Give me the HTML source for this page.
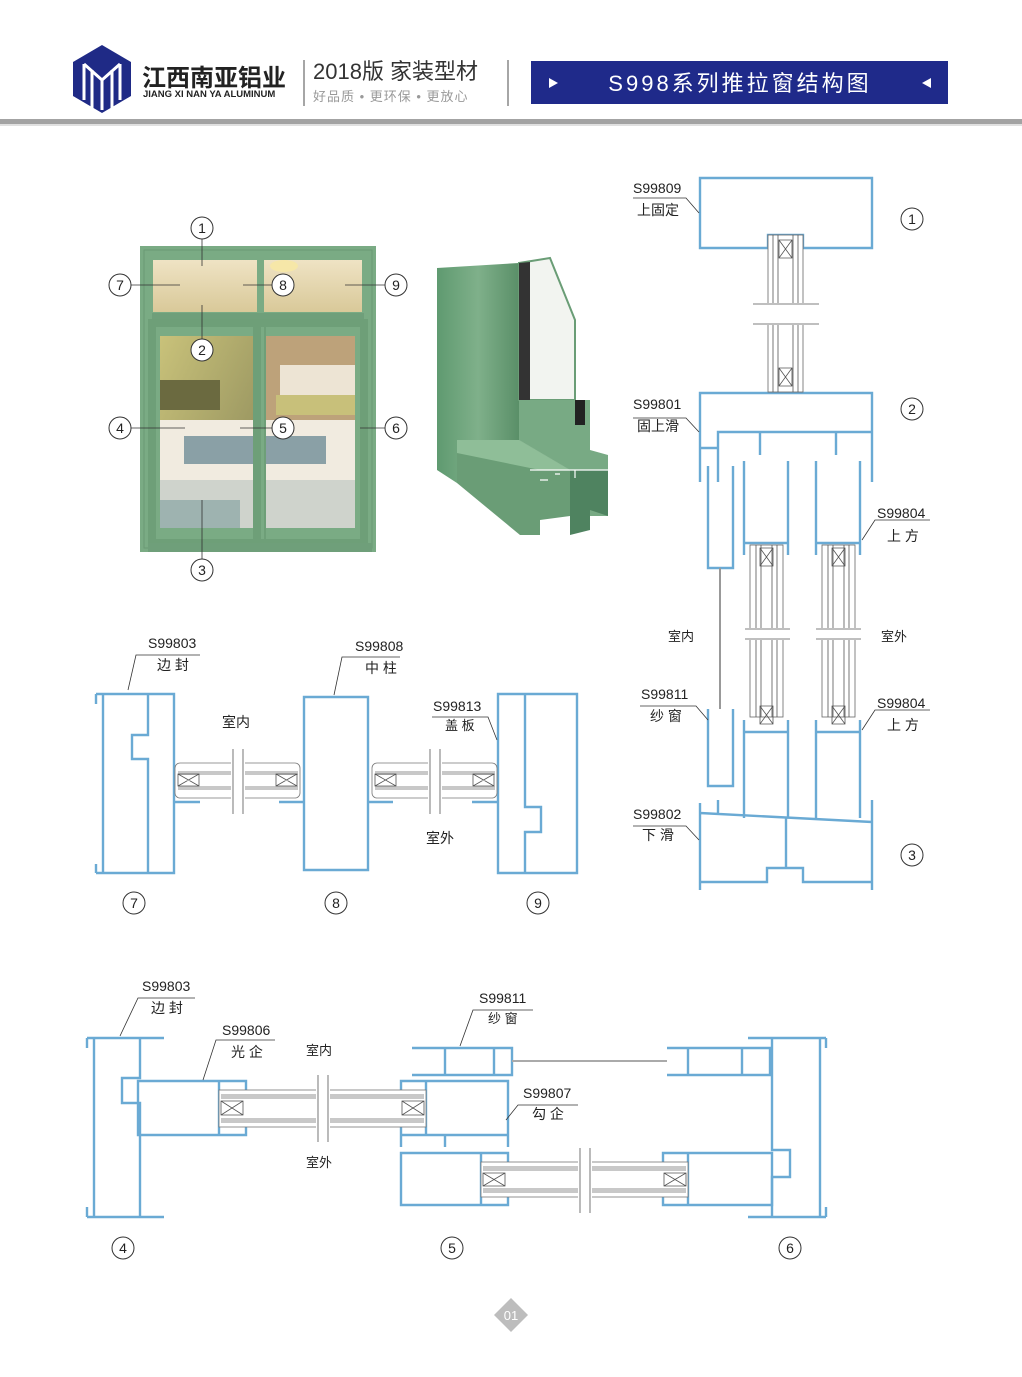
<!DOCTYPE html>
<html><head><meta charset="utf-8"><style>
html,body{margin:0;padding:0;background:#fff;}
svg{display:block;}
.p{fill:none;stroke:#6aaad4;stroke-width:2.4;stroke-linejoin:miter;}
.t{fill:none;stroke:#555;stroke-width:0.8;}
.g{fill:#d6d6d6;stroke:#888;stroke-width:0.7;}
.l{fill:none;stroke:#333;stroke-width:0.8;}
.c{fill:#fff;stroke:#333;stroke-width:1;}
text{font-family:"Liberation Sans","Noto Sans CJK SC",sans-serif;fill:#222;}
.n{font-size:14px;text-anchor:middle;}
.lb{font-size:14px;}
</style></head><body>
<svg width="1022" height="1377" viewBox="0 0 1022 1377" xmlns="http://www.w3.org/2000/svg">
<!-- header -->
<polygon points="102,45 131,62 131,96 102,113 73,96 73,62" fill="#1f2a86"/>
<path d="M84,64 L84,100 M92,70 L92,108 M102,78 L102,110 M112,70 L112,108 M120,64 L120,100 M84,64 L102,80 L120,64" stroke="#fff" stroke-width="3" fill="none"/>
<text x="142" y="86" style="font-size:24px;font-weight:bold;fill:#222">江西南亚铝业</text>
<text x="143" y="97" style="font-size:9.5px;font-weight:bold;fill:#222">JIANG XI NAN YA ALUMINUM</text>
<line x1="304" y1="60" x2="304" y2="106" stroke="#888" stroke-width="1.5"/>
<text x="313" y="79" style="font-size:22px;fill:#333">2018版  家装型材</text>
<text x="313" y="101" style="font-size:13px;fill:#999;letter-spacing:1px">好品质 • 更环保 • 更放心</text>
<line x1="508" y1="60" x2="508" y2="106" stroke="#888" stroke-width="1.5"/>
<rect x="531" y="61" width="417" height="43" fill="#1f2a8a"/>
<polygon points="549,78 549,88 558,83" fill="#fff"/>
<polygon points="931,78 931,88 922,83" fill="#fff"/>
<text x="740" y="91" style="font-size:22px;fill:#fff;text-anchor:middle;letter-spacing:3px">S998系列推拉窗结构图</text>
<rect x="0" y="119" width="1022" height="5" fill="#a3a3a3"/>
<rect x="0" y="124" width="1022" height="2" fill="#e0e0e0"/>

<!-- window photo -->
<defs>
<linearGradient id="wall" x1="0" y1="0" x2="1" y2="1"><stop offset="0" stop-color="#c9c27a"/><stop offset="1" stop-color="#8d8a5a"/></linearGradient>
<linearGradient id="ceil" x1="0" y1="0" x2="0" y2="1"><stop offset="0" stop-color="#efe3c4"/><stop offset="1" stop-color="#d9c999"/></linearGradient>
<linearGradient id="gr" x1="0" y1="0" x2="1" y2="0"><stop offset="0" stop-color="#5f9a70"/><stop offset="0.5" stop-color="#7fb08a"/><stop offset="1" stop-color="#5a8f68"/></linearGradient>
</defs>
<rect x="140" y="246" width="236" height="306" fill="#7aab84"/>
<rect x="144" y="250" width="228" height="298" fill="none" stroke="#6a9a74" stroke-width="1"/>
<rect x="153" y="260" width="104" height="52" fill="url(#ceil)"/>
<rect x="264" y="260" width="98" height="52" fill="url(#ceil)"/>
<ellipse cx="284" cy="266" rx="14" ry="6" fill="#f6e7a8"/>
<rect x="152" y="313" width="212" height="9" fill="#6f9f7a"/>
<rect x="160" y="336" width="93" height="192" fill="url(#wall)"/>
<rect x="264" y="336" width="91" height="192" fill="#bda27a"/>
<rect x="280" y="365" width="75" height="40" fill="#ede4d4"/>
<rect x="276" y="395" width="79" height="20" fill="#c8c07a"/>
<rect x="160" y="420" width="195" height="60" fill="#f1ebe0"/>
<rect x="184" y="436" width="142" height="28" fill="#8aa0a6"/>
<rect x="160" y="480" width="195" height="48" fill="#cfd3cc"/>
<rect x="160" y="500" width="80" height="28" fill="#9eb3b0"/>
<rect x="160" y="380" width="60" height="30" fill="#6b6a40"/>
<rect x="152" y="323" width="110" height="220" fill="none" stroke="#6e9f78" stroke-width="8"/>
<rect x="253" y="323" width="11" height="220" fill="#7aab84"/>
<rect x="257" y="323" width="107" height="220" fill="none" stroke="#6e9f78" stroke-width="8"/>
<rect x="148" y="543" width="224" height="9" fill="#6f9f7a"/>
<path d="M202,239 V266 M202,305 V339 M202,500 V559 M131,285 H180 M243,285 H272 M345,285 H385 M131,428 H185 M240,428 H272 M360,428 H385" class="l"/>
<g>
<circle cx="202" cy="228" r="11" class="c"/><text x="202" y="233" class="n">1</text>
<circle cx="120" cy="285" r="11" class="c"/><text x="120" y="290" class="n">7</text>
<circle cx="283" cy="285" r="11" class="c"/><text x="283" y="290" class="n">8</text>
<circle cx="396" cy="285" r="11" class="c"/><text x="396" y="290" class="n">9</text>
<circle cx="202" cy="350" r="11" class="c"/><text x="202" y="355" class="n">2</text>
<circle cx="120" cy="428" r="11" class="c"/><text x="120" y="433" class="n">4</text>
<circle cx="283" cy="428" r="11" class="c"/><text x="283" y="433" class="n">5</text>
<circle cx="396" cy="428" r="11" class="c"/><text x="396" y="433" class="n">6</text>
<circle cx="202" cy="570" r="11" class="c"/><text x="202" y="575" class="n">3</text>
</g>

<!-- 3D profile -->
<polygon points="437,268 519,263 519,440 457,440 457,483 437,470" fill="url(#gr)"/>
<polygon points="457,440 519,440 570,470 570,516 540,520 540,535 520,535 457,483" fill="#6a9d76"/>
<polygon points="457,440 519,440 570,470 540,470 457,453" fill="#8fbe98"/>
<polygon points="519,263 550,258 575,320 575,400 519,400" fill="#f2f4f0" stroke="#6a9d76" stroke-width="2"/>
<polygon points="519,263 530,262 530,400 519,400" fill="#333"/>
<polygon points="519,400 590,400 590,450 608,455 608,516 570,516 570,470 519,440" fill="#78aa84"/>
<polygon points="570,470 608,470 608,516 590,510 590,530 570,535" fill="#4f8360"/>
<path d="M530,470 L608,470 M540,480 L548,480 M555,474 L560,474 M575,470 L575,478" stroke="#fff" stroke-width="1.2" fill="none"/>
<rect x="575" y="400" width="10" height="25" fill="#222"/>

<!-- middle-left 7/8/9 -->
<g class="p">
<path d="M96,694 L174,694 L174,873 L96,873 M103,694 L103,873 M148,694 L148,735 L132,735 L132,759 L148,759 L148,873 M96,694 L96,704 M96,873 L96,864"/>
<path d="M304,697 L368,697 L368,870 L304,870 Z"/>
<path d="M498,694 L577,694 L577,873 L498,873 Z M525,694 L525,807 L541,807 L541,832 L525,832 L525,873 M577,694 L577,704"/>
<path d="M174,802 L200,802 M279,802 L304,802 M368,802 L393,802 M472,802 L498,802"/>
</g>
<g>
<rect x="175" y="763" width="125" height="35" rx="5" fill="#fff" stroke="#777" stroke-width="0.8"/>
<rect x="178" y="771" width="120" height="4" fill="#c8c8c8"/><rect x="178" y="786" width="120" height="4" fill="#c8c8c8"/>
<rect x="372" y="763" width="125" height="35" rx="5" fill="#fff" stroke="#777" stroke-width="0.8"/>
<rect x="375" y="771" width="120" height="4" fill="#c8c8c8"/><rect x="375" y="786" width="120" height="4" fill="#c8c8c8"/>
<rect x="231" y="749" width="14" height="66" fill="#fff"/><rect x="428" y="749" width="14" height="66" fill="#fff"/>
<path d="M233,749 L233,814 M243,749 L243,814 M430,749 L430,814 M440,749 L440,814" class="t"/>
<path d="M178,774 h21 v12 h-21 z M178,774 l21,12 M199,774 l-21,12 M276,774 h21 v12 h-21 z M276,774 l21,12 M297,774 l-21,12 M375,774 h21 v12 h-21 z M375,774 l21,12 M396,774 l-21,12 M473,774 h21 v12 h-21 z M473,774 l21,12 M494,774 l-21,12" class="t"/>
</g>
<path d="M128,690 L136,655 L200,655 M334,695 L342,657 L400,657 M497,740 L488,717 L432,717" class="l"/>
<text x="148" y="648" class="lb">S99803</text><text x="157" y="670" class="lb">边 封</text>
<text x="355" y="651" class="lb">S99808</text><text x="365" y="673" class="lb">中 柱</text>
<text x="433" y="711" class="lb">S99813</text><text x="445" y="730" class="lb" style="font-size:13px">盖 板</text>
<text x="222" y="727" class="lb">室内</text><text x="426" y="843" class="lb">室外</text>
<circle cx="134" cy="903" r="11" class="c"/><text x="134" y="908" class="n">7</text>
<circle cx="336" cy="903" r="11" class="c"/><text x="336" y="908" class="n">8</text>
<circle cx="538" cy="903" r="11" class="c"/><text x="538" y="908" class="n">9</text>

<!-- right vertical section -->
<g class="p">
<path d="M700,178 L872,178 L872,248 L803,248 L803,235 L768,235 L768,248 L700,248 Z"/>
<path d="M700,482 L700,393 L872,393 L872,482 M718,482 L718,432 L872,432 M700,448 L718,448 M760,432 L760,455 M836,432 L836,455"/>
<path d="M708,466 L708,568 L733,568 L733,466 M708,709 L708,786 L733,786 L733,709"/>
<path d="M744,461 L744,543 L788,543 L788,461 M744,543 L744,555 M788,543 L788,555 M816,461 L816,543 L860,543 L860,461 M816,543 L816,555 M860,543 L860,555"/>
<path d="M744,720 L744,818 M788,720 L788,818 M744,732 L788,732 M816,720 L816,818 M860,720 L860,818 M816,732 L860,732"/>
<path d="M700,890 L700,803 M872,890 L872,800 M700,813 L872,822 M700,882 L767,882 L767,868 L803,868 L803,882 L872,882 M786,818 L786,868 M718,800 L718,813"/>
</g>
<g>
<rect x="768" y="235" width="35" height="157" fill="#fff" stroke="#666" stroke-width="0.8"/>
<path d="M773,235 V392 M778,235 V392 M793,235 V392 M798,235 V392" class="t"/>
<rect x="752" y="303" width="68" height="22" fill="#fff"/>
<path d="M753,304 H819 M753,324 H819" class="t"/>
<path d="M779,240 h13 v18 h-13 z l13,18 M792,240 l-13,18 M779,368 h13 v18 h-13 z l13,18 M792,368 l-13,18" class="t"/>
<rect x="750" y="545" width="33" height="172" fill="#fff" stroke="#666" stroke-width="0.8"/>
<rect x="822" y="545" width="33" height="172" fill="#fff" stroke="#666" stroke-width="0.8"/>
<path d="M756,545 V717 M761,545 V717 M772,545 V717 M777,545 V717 M828,545 V717 M833,545 V717 M844,545 V717 M849,545 V717" class="t"/>
<rect x="744" y="628" width="118" height="12" fill="#fff"/>
<path d="M745,629 H790 M745,639 H790 M816,629 H861 M816,639 H861" class="t"/>
<path d="M760,548 h13 v18 h-13 z l13,18 M773,548 l-13,18 M760,706 h13 v18 h-13 z l13,18 M773,706 l-13,18 M832,548 h13 v18 h-13 z l13,18 M845,548 l-13,18 M832,706 h13 v18 h-13 z l13,18 M845,706 l-13,18" class="t"/>
<line x1="720" y1="568" x2="720" y2="709" stroke="#999" stroke-width="2"/>
</g>
<path d="M699,213 L686,198 L633,198 M699,432 L686,418 L633,418 M862,540 L875,520 L930,520 M862,730 L875,710 L930,710 M708,720 L696,706 L640,706 M699,840 L686,826 L633,826" class="l"/>
<text x="633" y="193" class="lb">S99809</text><text x="637" y="215" class="lb">上固定</text>
<text x="633" y="409" class="lb">S99801</text><text x="637" y="431" class="lb">固上滑</text>
<text x="877" y="518" class="lb">S99804</text><text x="887" y="541" class="lb">上 方</text>
<text x="877" y="708" class="lb">S99804</text><text x="887" y="730" class="lb">上 方</text>
<text x="641" y="699" class="lb">S99811</text><text x="650" y="721" class="lb">纱 窗</text>
<text x="633" y="819" class="lb">S99802</text><text x="642" y="840" class="lb">下 滑</text>
<text x="668" y="641" class="lb" style="font-size:13px">室内</text><text x="881" y="641" class="lb" style="font-size:13px">室外</text>
<circle cx="912" cy="219" r="11" class="c"/><text x="912" y="224" class="n">1</text>
<circle cx="912" cy="409" r="11" class="c"/><text x="912" y="414" class="n">2</text>
<circle cx="912" cy="855" r="11" class="c"/><text x="912" y="860" class="n">3</text>

<!-- bottom horizontal section -->
<g class="p">
<path d="M87,1038 L164,1038 M87,1217 L164,1217 M94,1038 L94,1217 M87,1038 L87,1048 M87,1217 L87,1207 M140,1038 L140,1078 L122,1078 L122,1103 L140,1103 L140,1217"/>
<path d="M138,1081 L246,1081 L246,1135 L138,1135 Z M219,1081 L219,1135"/>
<path d="M401,1081 L508,1081 L508,1135 L401,1135 Z M426,1081 L426,1135 M401,1135 L401,1147 M508,1135 L508,1147 M445,1135 L445,1147"/>
<path d="M412,1048 L512,1048 L512,1075 L412,1075 M445,1048 L445,1075 M494,1048 L494,1075"/>
<path d="M667,1048 L770,1048 L770,1075 L667,1075 M688,1048 L688,1075 M742,1048 L742,1075"/>
<path d="M401,1153 L508,1153 L508,1205 L401,1205 Z M481,1153 L481,1205"/>
<path d="M663,1153 L772,1153 L772,1205 L663,1205 Z M688,1153 L688,1205"/>
<path d="M748,1038 L826,1038 M748,1217 L826,1217 M820,1038 L820,1217 M826,1038 L826,1048 M826,1217 L826,1207 M772,1038 L772,1150 L790,1150 L790,1177 L772,1177 L772,1217"/>
</g>
<g>
<rect x="219" y="1090" width="207" height="37" fill="#fff" stroke="#777" stroke-width="0.8"/>
<rect x="221" y="1094" width="203" height="5" fill="#c8c8c8"/><rect x="221" y="1118" width="203" height="5" fill="#c8c8c8"/>
<rect x="481" y="1162" width="207" height="35" fill="#fff" stroke="#777" stroke-width="0.8"/>
<rect x="483" y="1166" width="203" height="5" fill="#c8c8c8"/><rect x="483" y="1188" width="203" height="5" fill="#c8c8c8"/>
<rect x="316" y="1075" width="14" height="67" fill="#fff"/><rect x="578" y="1148" width="14" height="65" fill="#fff"/>
<path d="M318,1075 V1142 M328,1075 V1142 M580,1148 V1213 M590,1148 V1213" class="t"/>
<path d="M221,1101 h22 v14 h-22 z l22,14 M243,1101 l-22,14 M402,1101 h22 v14 h-22 z l22,14 M424,1101 l-22,14 M483,1173 h22 v13 h-22 z l22,13 M505,1173 l-22,13 M664,1173 h22 v13 h-22 z l22,13 M686,1173 l-22,13" class="t"/>
<line x1="512" y1="1061" x2="667" y2="1061" stroke="#aaa" stroke-width="2"/>
</g>
<path d="M120,1036 L138,998 L195,998 M203,1080 L216,1040 L275,1040 M460,1046 L473,1010 L533,1010 M506,1120 L518,1105 L578,1105" class="l"/>
<text x="142" y="991" class="lb">S99803</text><text x="151" y="1013" class="lb">边 封</text>
<text x="222" y="1035" class="lb">S99806</text><text x="231" y="1057" class="lb">光 企</text>
<text x="479" y="1003" class="lb">S99811</text><text x="488" y="1023" class="lb" style="font-size:13px">纱 窗</text>
<text x="523" y="1098" class="lb">S99807</text><text x="532" y="1119" class="lb">勾 企</text>
<text x="306" y="1055" class="lb" style="font-size:13px">室内</text><text x="306" y="1167" class="lb" style="font-size:13px">室外</text>
<circle cx="123" cy="1248" r="11" class="c"/><text x="123" y="1253" class="n">4</text>
<circle cx="452" cy="1248" r="11" class="c"/><text x="452" y="1253" class="n">5</text>
<circle cx="790" cy="1248" r="11" class="c"/><text x="790" y="1253" class="n">6</text>

<!-- page number -->
<polygon points="511,1298 528,1315 511,1332 494,1315" fill="#bdbdbd"/>
<text x="511" y="1320" style="font-size:13px;fill:#fff;text-anchor:middle">01</text>
</svg>
</body></html>
